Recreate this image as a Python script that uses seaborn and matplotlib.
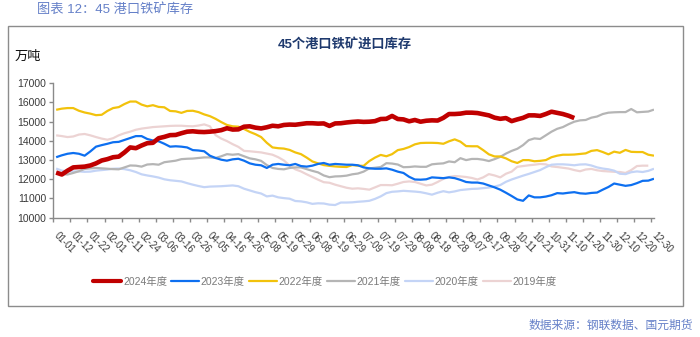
import numpy as np
import pandas as pd
import matplotlib
matplotlib.use("Agg")
import matplotlib.pyplot as plt
import seaborn as sns
from matplotlib.lines import Line2D
from matplotlib.patches import Rectangle
from matplotlib.transforms import ScaledTranslation

tick_labels = ['01-01', '01-12', '01-22', '02-01', '02-11', '02-24', '03-06', '03-16', '03-26',
               '04-05', '04-16', '04-26', '05-08', '05-19', '05-29', '06-08', '06-19', '06-29',
               '07-09', '07-19', '07-29', '08-08', '08-18', '08-28', '09-07', '09-17', '09-28',
               '10-11', '10-21', '10-31', '11-10', '11-20', '11-30', '12-10', '12-20', '12-30']

s2024 = [12350, 12250, 12450, 12620, 12640, 12660, 12720, 12830, 12980, 13050, 13150, 13180, 13400, 13660,
         13620, 13760, 13880, 13900, 14140, 14210, 14300, 14310, 14400, 14480, 14500, 14470, 14460,
         14480, 14510, 14560, 14660, 14590, 14600, 14740, 14760, 14690, 14650, 14710, 14790, 14760, 14830,
         14850, 14840, 14880, 14920, 14920, 14900, 14910, 14780, 14910, 14920, 14960, 14990,
         15010, 14990, 15000, 15030, 15140, 15150, 15300, 15140, 15120, 15020, 15090, 15000, 15050, 15070,
         15060, 15200, 15400, 15400, 15420, 15470, 15470, 15450, 15390, 15330, 15210, 15150, 15190,
         15030, 15120, 15200, 15330, 15330, 15300, 15400, 15520, 15460, 15400, 15310, 15190]

s2023 = [13150, 13250, 13330, 13370, 13330, 13230, 13450, 13700, 13780, 13850, 13930, 13950, 14050, 14150,
         14250, 14250, 14100, 14020, 13980, 13850, 13700, 13720, 13700, 13660, 13520, 13500, 13460,
         13230, 13110, 13020, 12970, 13040, 13070, 12970, 12830, 12760, 12730, 12590, 12760, 12800, 12760,
         12730, 12800, 12690, 12660, 12710, 12800, 12850, 12760, 12800, 12780, 12760, 12760,
         12730, 12620, 12570, 12550, 12550, 12570, 12500, 12400, 12330, 12130, 11990, 11980, 12000, 12100,
         12080, 12060, 12100, 12060, 11970, 11860, 11830, 11830, 11780, 11680, 11580, 11460, 11300,
         11130, 10950, 10880, 11160, 11060, 11060, 11100, 11170, 11280, 11260, 11300, 11330, 11270, 11250,
         11290, 11310, 11460, 11600, 11780, 11720, 11660, 11700, 11800, 11920, 11930, 12030]

s2022 = [15620, 15680, 15710, 15710, 15570, 15480, 15420, 15340, 15360, 15560, 15710, 15760, 15920, 16050,
         16050, 15890, 15800, 15860, 15770, 15750, 15560, 15540, 15460, 15560, 15570, 15500, 15380,
         15290, 15150, 14980, 14830, 14760, 14740, 14620, 14470, 14350, 14200, 13900, 13660, 13620, 13600,
         13530, 13400, 13310, 13130, 12930, 12830, 12740, 12700, 12670, 12650, 12640, 12740,
         12710, 12700, 12950, 13130, 13270, 13200, 13310, 13520, 13580, 13680, 13820, 13890, 13900, 13900,
         13890, 13850, 13980, 14080, 13960, 13730, 13720, 13720, 13520, 13300, 13190, 13190, 13090,
         12940, 12850, 13000, 13000, 12940, 12960, 13000, 13150, 13230, 13280, 13280, 13290, 13320, 13350,
         13480, 13520, 13420, 13300, 13440, 13380, 13530, 13430, 13420, 13420, 13280, 13230]

s2021 = [12350, 12270, 12250, 12330, 12420, 12540, 12570, 12590, 12570, 12550, 12530, 12520, 12620, 12720,
         12710, 12660, 12770, 12790, 12760, 12890, 12930, 12970, 13050, 13070, 13080, 13110, 13140,
         13140, 13110, 13200, 13310, 13280, 13310, 13200, 13090, 13040, 12960, 12740, 12590, 12540, 12520,
         12590, 12620, 12620, 12530, 12440, 12360, 12200, 12110, 12150, 12160, 12190, 12260,
         12300, 12400, 12570, 12600, 12640, 12840, 12820, 12770, 12630, 12640, 12670, 12650, 12650, 12780,
         12810, 12830, 12930, 12890, 13100, 13000, 13060, 13060, 13020, 12950, 13050, 13170, 13340,
         13480, 13590, 13780, 14040, 14130, 14100, 14290, 14480, 14630, 14720, 14870, 15000, 15070, 15090,
         15210, 15270, 15400, 15470, 15490, 15500, 15500, 15660, 15490, 15510, 15530, 15630]

s2020 = [12560, 12450, 12420, 12410, 12410, 12390, 12400, 12450, 12480, 12510, 12550, 12560, 12530, 12470,
         12380, 12260, 12200, 12150, 12090, 12000, 11950, 11920, 11890, 11800, 11720, 11650, 11590,
         11620, 11630, 11640, 11660, 11680, 11640, 11510, 11420, 11330, 11260, 11110, 11150, 11060, 11020,
         10990, 10870, 10850, 10800, 10720, 10750, 10740, 10680, 10660, 10790, 10790, 10800,
         10830, 10850, 10880, 10980, 11110, 11280, 11350, 11370, 11400, 11380, 11360, 11330, 11270, 11200,
         11300, 11380, 11320, 11370, 11440, 11470, 11500, 11510, 11540, 11570, 11620, 11700, 11870,
         11990, 12090, 12190, 12280, 12380, 12480, 12630, 12760, 12780, 12780, 12760, 12730, 12770, 12780,
         12720, 12620, 12560, 12520, 12450, 12290, 12270, 12370, 12410, 12380, 12440, 12550]

s2019 = [14290, 14250, 14200, 14230, 14330, 14360, 14290, 14200, 14120, 14060, 14140, 14290, 14400, 14480,
         14580, 14640, 14680, 14720, 14740, 14760, 14780, 14790, 14790, 14770, 14760, 14800, 14860,
         14760, 14300, 14120, 13990, 13830, 13690, 13480, 13460, 13430, 13400, 13340, 13280, 13150, 12980,
         12720, 12520, 12410, 12260, 12120, 11980, 11850, 11820, 11720, 11640, 11560, 11510,
         11530, 11500, 11460, 11580, 11700, 11700, 11690, 11770, 11860, 11890, 11860, 11770, 11680, 11720,
         11860, 12020, 12120, 12170, 12150, 12120, 12070, 11990, 12100, 12270, 12200, 12100, 12290,
         12400, 12650, 12690, 12730, 12760, 12800, 12780, 12670, 12640, 12600, 12560, 12480, 12420, 12510,
         12540, 12470, 12430, 12410, 12390, 12380, 12330, 12480, 12690, 12710, 12710]

series_names = ['2024年度', '2023年度', '2022年度', '2021年度', '2020年度', '2019年度']
series_vals = [s2024, s2023, s2022, s2021, s2020, s2019]
colors = ['#c00000', '#0d6ff0', '#f2c20c', '#b5b5b5', '#c4d4f6', '#ecd3d3']
widths = [3.3, 1.6, 1.6, 1.6, 1.6, 1.6]

sns.set_theme(style='white')
plt.rcParams['font.family'] = ['Liberation Sans', 'Noto Sans CJK SC', 'DejaVu Sans']

W, H = 700, 337
fig = plt.figure(figsize=(W / 100, H / 100), dpi=100)
fig.patch.set_facecolor('white')

# outer frame
fig.add_artist(Rectangle((8 / W, 1 - 306 / H), (683 - 8) / W, (306 - 26) / H,
                         transform=fig.transFigure, fill=False, edgecolor='#8c8c8c', lw=1.0))

ax = fig.add_axes([53.3 / W, 1 - 217.7 / H, (654 - 53.3) / W, (217.7 - 83.3) / H])
ax.set_facecolor('white')

# draw oldest first so 2024 sits on top
for name, vals, c, lw in reversed(list(zip(series_names, series_vals, colors, widths))):
    df = pd.DataFrame({'x': np.arange(len(vals)), 'y': vals})
    sns.lineplot(data=df, x='x', y='y', ax=ax, color=c, linewidth=lw,
                 legend=False, solid_joinstyle='round', solid_capstyle='butt')

ax.set_xlim(-0.5, 105.0)
ax.set_ylim(10000, 17000)
ax.set_xlabel('')
ax.set_ylabel('')
ax.set_yticks(np.arange(10000, 17001, 1000))
ax.set_yticklabels([str(v) for v in range(10000, 17001, 1000)])
ax.set_xticks([3 * k - 0.5 for k in range(len(tick_labels))])
ax.set_xticklabels(tick_labels)

for sp in ['top', 'right']:
    ax.spines[sp].set_visible(False)
for sp in ['left', 'bottom']:
    ax.spines[sp].set_color('#8a8a8a')
    ax.spines[sp].set_linewidth(1.0)

ax.tick_params(axis='y', which='major', direction='out', length=3, width=1, color='#8a8a8a',
               labelsize=7.5, labelcolor='#3a3a3a', pad=2, left=True)
ax.tick_params(axis='x', which='major', direction='out', length=3, width=1, color='#8a8a8a',
               labelsize=7, labelcolor='#3a3a3a', pad=8.5, bottom=True)
off = ScaledTranslation(1.5 / 72, 0, fig.dpi_scale_trans)
for lab in ax.get_xticklabels():
    lab.set_rotation(-45)
    lab.set_rotation_mode('anchor')
    lab.set_ha('left')
    lab.set_va('center')
    lab.set_transform(lab.get_transform() + off)
ax.grid(False)

# legend
handles = [Line2D([0], [0], color=c, lw=(3.0 if lw > 2 else 1.6)) for c, lw in zip(colors, widths)]
leg = fig.legend(handles, series_names, loc='center', bbox_to_anchor=(325 / W, 1 - 282 / H),
                 ncol=6, frameon=False, fontsize=7.5, handlelength=2.7, handletextpad=0.15,
                 columnspacing=0.4)
for t in leg.get_texts():
    t.set_color('#7a7a7a')

# texts
fig.text(37 / W, 1 - 10 / H, '图表 12：45 港口铁矿库存', ha='left', va='center',
         fontsize=9.5, color='#6580c8')
fig.text(345 / W, 1 - 44 / H, '45个港口铁矿进口库存', ha='center', va='center',
         fontsize=9.5, fontweight='bold', color='#1f3a6e')
fig.text(15 / W, 1 - 57 / H, '万吨', ha='left', va='center', fontsize=9.5, color='#111111')
fig.text(693 / W, 1 - 326 / H, '数据来源：钢联数据、国元期货', ha='right', va='center',
         fontsize=8.5, color='#6580c8')

fig.savefig('out.png', dpi=100, facecolor='white')
